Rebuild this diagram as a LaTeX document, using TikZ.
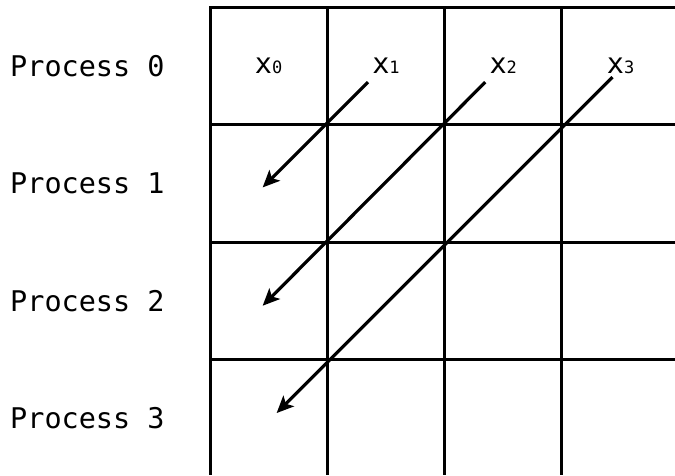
\documentclass[tikz,border=0pt]{standalone}
\usepackage{fontspec}
\usetikzlibrary{arrows.meta,positioning,calc}
\newfontfamily\procfont{DejaVu Sans Mono}
\newcommand{\sub}[1]{{\fontsize{17}{17}\selectfont #1}}

\begin{document}
\begin{tikzpicture}[
  x=1pt, y=1pt,
  font=\procfont\fontsize{28.5}{30}\selectfont,
  cell/.style={draw, line width=3pt, minimum size=117.3pt, inner sep=0pt},
  proc/.style={anchor=west, inner sep=0pt},
  send/.style={-{Stealth[length=17pt, width=15pt, inset=4pt]}, line width=3.2pt},
]
\useasboundingbox (0,0) rectangle (675,476);

% ------------------------------------------------------------ grid
\begin{scope}
  \clip (0,1.2) rectangle (675,476);
  \foreach \r in {0,...,3}
    \foreach \c in {0,...,3}
      \node[cell] (c\r\c) at (268.65+117.3*\c, 409.85-117.3*\r) {};
\end{scope}

% ------------------------------------------------------------ processes
\foreach \r in {0,...,3}
  \node[proc] (p\r) at (10, 409.85-117.3*\r) {Process \r};

% ------------------------------------------------------------ data
\node (x0) at (c00.center) {x\sub{0}};
\node (x1) at (c01.center) {x\sub{1}};
\node (x2) at (c02.center) {x\sub{2}};
\node (x3) at (c03.center) {x\sub{3}};

% scatter: x_i goes down to process i
\coordinate (s1) at ([shift={(-18,-16)}]c01.center);
\coordinate (s2) at ([shift={(-18,-16)}]c02.center);
\coordinate (s3) at ([shift={(-8,-11)}]c03.center);
\coordinate (t1) at ([shift={(-6,-4)}]c10.center);
\coordinate (t2) at ([shift={(-6,-5)}]c20.center);
\coordinate (t3) at ([shift={(8,5)}]c30.center);
\draw[send] (s1) -- (t1);
\draw[send] (s2) -- (t2);
\draw[send] (s3) -- (t3);

\end{tikzpicture}
\end{document}
